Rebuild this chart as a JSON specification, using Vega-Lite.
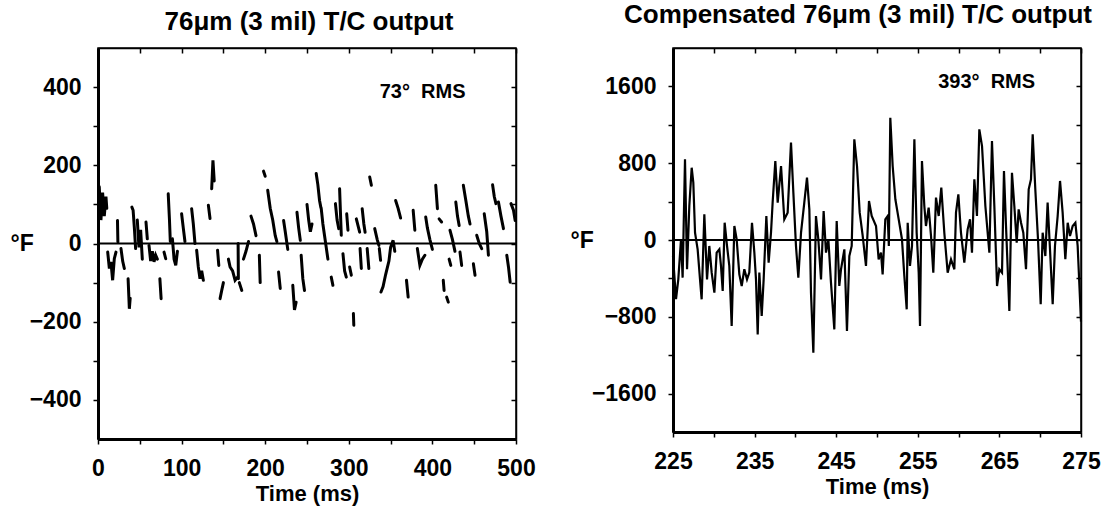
{
  "$schema": "https://vega.github.io/schema/vega-lite/v6.json",
  "background": "white",
  "padding": {"left": 9, "top": 1, "right": 5, "bottom": 5},
  "spacing": 33,
  "config": {
    "font": "Liberation Sans",
    "view": {"stroke": "black", "strokeWidth": 1.5},
    "axis": {
      "grid": false,
      "domainColor": "black",
      "tickColor": "black",
      "labelColor": "black",
      "titleColor": "black",
      "labelFont": "Liberation Sans",
      "titleFont": "Liberation Sans",
      "labelFontWeight": "bold",
      "titleFontWeight": "bold",
      "labelFontSize": 23,
      "titleFontSize": 22,
      "labelFlush": false,
      "tickWidth": 1.5
    },
    "title": {"font": "Liberation Sans", "fontSize": 26, "fontWeight": "bold", "color": "black"}
  },
  "datasets": {
    "left": [
      {"seg":1,"t":1.5,"v":145},{"seg":1,"t":3.5,"v":60},{"seg":1,"t":5.5,"v":130},{"seg":1,"t":7.5,"v":70},{"seg":1,"t":9.5,"v":120},{"seg":1,"t":10.5,"v":90},
      {"seg":2,"t":11.6,"v":-22},{"seg":2,"t":13.6,"v":-64},{"seg":2,"t":15.5,"v":-47},{"seg":2,"t":17.5,"v":-94},{"seg":2,"t":19.5,"v":-39},{"seg":2,"t":21.5,"v":-22},
      {"seg":3,"t":23.3,"v":59},{"seg":3,"t":23.8,"v":4},
      {"seg":4,"t":27.5,"v":-13},{"seg":4,"t":29.5,"v":-45},{"seg":4,"t":31.5,"v":-64},
      {"seg":5,"t":36,"v":-90},{"seg":5,"t":37.5,"v":-167},{"seg":5,"t":38.5,"v":-140},
      {"seg":6,"t":40.5,"v":93},{"seg":6,"t":42,"v":85},{"seg":6,"t":43.5,"v":40},{"seg":6,"t":45,"v":-13},
      {"seg":7,"t":47,"v":60},{"seg":7,"t":49,"v":-10},{"seg":7,"t":51,"v":35},{"seg":7,"t":53,"v":-40},
      {"seg":8,"t":57.4,"v":55},{"seg":8,"t":59,"v":12},
      {"seg":9,"t":61,"v":-5},{"seg":9,"t":63,"v":-45},{"seg":9,"t":65,"v":-20},{"seg":9,"t":67,"v":-47},{"seg":9,"t":69,"v":-30},{"seg":9,"t":71,"v":-40},
      {"seg":10,"t":74,"v":-90},{"seg":10,"t":75.5,"v":-141},
      {"seg":11,"t":79,"v":-22},{"seg":11,"t":81,"v":-39},
      {"seg":12,"t":84,"v":127},{"seg":12,"t":85.5,"v":60},{"seg":12,"t":86.5,"v":5},
      {"seg":13,"t":89,"v":12},{"seg":13,"t":91,"v":-40},{"seg":13,"t":93,"v":-56},{"seg":13,"t":95,"v":-20},
      {"seg":14,"t":100,"v":76},{"seg":14,"t":102,"v":40},{"seg":14,"t":104,"v":5},
      {"seg":15,"t":112,"v":89},{"seg":15,"t":114,"v":50},{"seg":15,"t":116,"v":0},
      {"seg":16,"t":118,"v":-17},{"seg":16,"t":120,"v":-60},{"seg":16,"t":122,"v":-90},{"seg":16,"t":124,"v":-70},{"seg":16,"t":126,"v":-94},
      {"seg":17,"t":132,"v":98},{"seg":17,"t":134,"v":64},
      {"seg":18,"t":136,"v":140},{"seg":18,"t":137.5,"v":213},{"seg":18,"t":139,"v":160},
      {"seg":19,"t":143,"v":-17},{"seg":19,"t":144.5,"v":-56},
      {"seg":20,"t":146,"v":-141},{"seg":20,"t":148,"v":-120},{"seg":20,"t":150,"v":-100},
      {"seg":21,"t":156,"v":-40},{"seg":21,"t":158,"v":-60},{"seg":21,"t":161,"v":-70},{"seg":21,"t":164,"v":-94},{"seg":21,"t":167,"v":-86},
      {"seg":22,"t":167.6,"v":0},{"seg":22,"t":167.9,"v":-90},
      {"seg":23,"t":169,"v":-100},{"seg":23,"t":172,"v":-120},
      {"seg":24,"t":174,"v":-40},{"seg":24,"t":177,"v":-20},{"seg":24,"t":180,"v":5},
      {"seg":25,"t":183,"v":70},{"seg":25,"t":186,"v":50},{"seg":25,"t":189,"v":20},
      {"seg":26,"t":193,"v":-30},{"seg":26,"t":194,"v":-100},
      {"seg":27,"t":198,"v":185},{"seg":27,"t":200,"v":172},
      {"seg":28,"t":203,"v":136},{"seg":28,"t":206,"v":90},{"seg":28,"t":209,"v":60},{"seg":28,"t":212,"v":20},{"seg":28,"t":214,"v":5},
      {"seg":29,"t":216,"v":-73},{"seg":29,"t":218,"v":-115},
      {"seg":30,"t":222,"v":59},{"seg":30,"t":224,"v":30},{"seg":30,"t":227,"v":-15},
      {"seg":31,"t":233,"v":-107},{"seg":31,"t":235,"v":-170},{"seg":31,"t":237,"v":-150},
      {"seg":32,"t":238,"v":80},{"seg":32,"t":240,"v":40},{"seg":32,"t":242,"v":8},
      {"seg":33,"t":243,"v":-30},{"seg":33,"t":245,"v":-90},{"seg":33,"t":247,"v":-120},
      {"seg":34,"t":250,"v":100},{"seg":34,"t":252,"v":60},{"seg":34,"t":254,"v":30},{"seg":34,"t":256,"v":50},
      {"seg":35,"t":261,"v":179},{"seg":35,"t":263,"v":150},{"seg":35,"t":265,"v":110},{"seg":35,"t":266.5,"v":93},
      {"seg":36,"t":267,"v":90},{"seg":36,"t":269,"v":50},{"seg":36,"t":271,"v":20},{"seg":36,"t":273,"v":-10},{"seg":36,"t":275,"v":-40},
      {"seg":37,"t":279,"v":-86},{"seg":37,"t":281,"v":-107},
      {"seg":38,"t":284,"v":102},{"seg":38,"t":286,"v":60},{"seg":38,"t":288,"v":38},
      {"seg":39,"t":289,"v":140},{"seg":39,"t":290,"v":80},{"seg":39,"t":291,"v":21},
      {"seg":40,"t":293,"v":-26},{"seg":40,"t":295,"v":-70},{"seg":40,"t":297,"v":-86},
      {"seg":41,"t":297.5,"v":76},{"seg":41,"t":299,"v":34},
      {"seg":42,"t":301,"v":-60},{"seg":42,"t":303,"v":-81},
      {"seg":43,"t":305.5,"v":-179},{"seg":43,"t":306,"v":-209},
      {"seg":44,"t":309,"v":63},{"seg":44,"t":313,"v":29},
      {"seg":45,"t":313.5,"v":-13},{"seg":45,"t":315,"v":-64},
      {"seg":46,"t":316,"v":89},{"seg":46,"t":318,"v":50},{"seg":46,"t":319.5,"v":29},
      {"seg":47,"t":322,"v":-13},{"seg":47,"t":324,"v":-64},
      {"seg":48,"t":325,"v":170},{"seg":48,"t":327,"v":149},
      {"seg":49,"t":331,"v":38},{"seg":49,"t":334,"v":10},{"seg":49,"t":336,"v":-5},
      {"seg":50,"t":336.5,"v":-13},{"seg":50,"t":338,"v":-43},
      {"seg":51,"t":338.5,"v":-124},{"seg":51,"t":341,"v":-110},{"seg":51,"t":344,"v":-80},{"seg":51,"t":348,"v":-45},{"seg":51,"t":350,"v":-10},{"seg":51,"t":353,"v":8},{"seg":51,"t":355,"v":-20},
      {"seg":52,"t":356,"v":110},{"seg":52,"t":359,"v":90},{"seg":52,"t":362,"v":65},
      {"seg":53,"t":369,"v":-94},{"seg":53,"t":371,"v":-137},
      {"seg":54,"t":377,"v":85},{"seg":54,"t":379,"v":34},
      {"seg":55,"t":382,"v":-13},{"seg":55,"t":385,"v":-56},{"seg":55,"t":388,"v":-40},{"seg":55,"t":391,"v":-30},
      {"seg":56,"t":392,"v":68},{"seg":56,"t":394,"v":40},{"seg":56,"t":397,"v":10},{"seg":56,"t":400,"v":-15},
      {"seg":57,"t":404,"v":149},{"seg":57,"t":406,"v":89},
      {"seg":58,"t":408,"v":63},{"seg":58,"t":411,"v":55},
      {"seg":59,"t":413,"v":-94},{"seg":59,"t":414,"v":-120},
      {"seg":60,"t":417,"v":-137},{"seg":60,"t":419,"v":-150},
      {"seg":61,"t":420,"v":-40},{"seg":61,"t":422,"v":-56},
      {"seg":62,"t":421,"v":34},{"seg":62,"t":424,"v":10},{"seg":62,"t":427,"v":-20},
      {"seg":63,"t":428,"v":106},{"seg":63,"t":430,"v":70},{"seg":63,"t":432,"v":46},
      {"seg":64,"t":433,"v":-22},{"seg":64,"t":435,"v":-56},
      {"seg":65,"t":437,"v":149},{"seg":65,"t":440,"v":110},{"seg":65,"t":443,"v":70},{"seg":65,"t":445,"v":50},
      {"seg":66,"t":449,"v":-52},{"seg":66,"t":451,"v":-81},
      {"seg":67,"t":453,"v":21},{"seg":67,"t":456,"v":0},{"seg":67,"t":459,"v":-13},
      {"seg":68,"t":462,"v":76},{"seg":68,"t":465,"v":30},{"seg":68,"t":467,"v":-30},
      {"seg":69,"t":472,"v":150},{"seg":69,"t":474,"v":120},{"seg":69,"t":476,"v":102},
      {"seg":70,"t":479,"v":106},{"seg":70,"t":482,"v":70},{"seg":70,"t":485,"v":38},
      {"seg":71,"t":489,"v":-30},{"seg":71,"t":491,"v":-60},{"seg":71,"t":493,"v":-99},
      {"seg":72,"t":494,"v":102},{"seg":72,"t":497,"v":85},{"seg":72,"t":499,"v":59}
    ],
    "right": [
      {"t":225.0,"v":-167},{"t":225.37,"v":-617},{"t":225.65,"v":-410},{"t":225.98,"v":6},{"t":226.18,"v":-392},{"t":226.47,"v":840},{"t":226.72,"v":-305},{"t":227.0,"v":354},{"t":227.29,"v":753},{"t":227.49,"v":597},
      {"t":227.7,"v":76},{"t":228.02,"v":-97},{"t":228.31,"v":-410},{"t":228.51,"v":-618},{"t":228.84,"v":267},{"t":229.17,"v":-410},{"t":229.45,"v":-62},{"t":229.74,"v":-340},{"t":230.07,"v":-548},{"t":230.35,"v":-132},
      {"t":230.68,"v":-97},{"t":230.88,"v":-270},{"t":231.09,"v":-531},{"t":231.33,"v":180},{"t":231.62,"v":-62},{"t":231.9,"v":-270},{"t":232.19,"v":-896},{"t":232.52,"v":146},{"t":232.8,"v":8},{"t":233.13,"v":-358},
      {"t":233.42,"v":-479},{"t":233.74,"v":-305},{"t":234.07,"v":-410},{"t":234.35,"v":-340},{"t":234.68,"v":180},{"t":234.97,"v":-132},{"t":235.17,"v":-410},{"t":235.38,"v":-983},{"t":235.58,"v":-340},{"t":235.87,"v":-792},
      {"t":236.11,"v":-410},{"t":236.44,"v":250},{"t":236.72,"v":-236},{"t":237.01,"v":76},{"t":237.21,"v":389},{"t":237.54,"v":823},{"t":237.83,"v":389},{"t":238.24,"v":771},{"t":238.64,"v":215},{"t":239.05,"v":285},
      {"t":239.46,"v":1014},{"t":239.75,"v":493},{"t":240.07,"v":-62},{"t":240.36,"v":-392},{"t":240.69,"v":76},{"t":241.09,"v":389},{"t":241.42,"v":649},{"t":241.71,"v":319},{"t":241.91,"v":-548},{"t":242.2,"v":-1174},
      {"t":242.52,"v":250},{"t":242.81,"v":8},{"t":243.14,"v":-410},{"t":243.46,"v":302},{"t":243.75,"v":-132},{"t":244.04,"v":8},{"t":244.36,"v":-444},{"t":244.77,"v":-931},{"t":245.06,"v":198},{"t":245.38,"v":-479},
      {"t":245.59,"v":-305},{"t":246.0,"v":-97},{"t":246.32,"v":-948},{"t":246.61,"v":-167},{"t":246.9,"v":-62},{"t":247.22,"v":1049},{"t":247.55,"v":771},{"t":247.88,"v":285},{"t":248.24,"v":48},{"t":248.65,"v":-270},
      {"t":249.02,"v":406},{"t":249.35,"v":250},{"t":249.88,"v":146},{"t":250.2,"v":-201},{"t":250.49,"v":-132},{"t":250.69,"v":-358},{"t":251.02,"v":215},{"t":251.31,"v":250},{"t":251.45,"v":-62},{"t":251.63,"v":1274},
      {"t":251.92,"v":771},{"t":252.25,"v":424},{"t":252.66,"v":215},{"t":253.06,"v":8},{"t":253.35,"v":-375},{"t":253.64,"v":-722},{"t":253.76,"v":180},{"t":254.04,"v":-270},{"t":254.29,"v":-62},{"t":254.58,"v":1049},
      {"t":254.86,"v":76},{"t":255.11,"v":-340},{"t":255.27,"v":-896},{"t":255.51,"v":823},{"t":255.8,"v":354},{"t":256.0,"v":146},{"t":256.33,"v":337},{"t":256.62,"v":42},{"t":256.9,"v":-340},{"t":257.23,"v":441},
      {"t":257.56,"v":250},{"t":257.88,"v":545},{"t":258.25,"v":76},{"t":258.66,"v":-340},{"t":259.07,"v":-201},{"t":259.48,"v":-305},{"t":259.68,"v":285},{"t":259.97,"v":476},{"t":260.29,"v":76},{"t":260.7,"v":-236},
      {"t":261.11,"v":111},{"t":261.4,"v":215},{"t":261.64,"v":-132},{"t":261.93,"v":632},{"t":262.25,"v":250},{"t":262.54,"v":1153},{"t":262.87,"v":979},{"t":263.28,"v":354},{"t":263.77,"v":-132},{"t":264.09,"v":1031},
      {"t":264.38,"v":354},{"t":264.71,"v":-479},{"t":264.99,"v":-305},{"t":265.32,"v":-340},{"t":265.56,"v":719},{"t":265.81,"v":146},{"t":266.22,"v":-739},{"t":266.54,"v":701},{"t":266.83,"v":354},{"t":267.12,"v":-28},
      {"t":267.36,"v":319},{"t":267.65,"v":180},{"t":267.93,"v":76},{"t":268.26,"v":-305},{"t":268.59,"v":528},{"t":268.87,"v":632},{"t":269.08,"v":1101},{"t":269.4,"v":528},{"t":269.73,"v":8},{"t":270.06,"v":-670},
      {"t":270.3,"v":76},{"t":270.63,"v":-167},{"t":270.91,"v":389},{"t":271.2,"v":-97},{"t":271.53,"v":-670},{"t":271.81,"v":-62},{"t":272.14,"v":250},{"t":272.43,"v":615},{"t":272.75,"v":285},{"t":273.08,"v":-201},
      {"t":273.37,"v":180},{"t":273.65,"v":42},{"t":273.98,"v":146},{"t":274.31,"v":180},{"t":274.59,"v":-62},{"t":274.88,"v":-618},{"t":275.0,"v":-850}
    ]
  },
  "hconcat": [
    {
      "width": 418,
      "height": 391,
      "title": {"text": "76μm (3 mil) T/C output", "offset": 12, "dx": 2},
      "layer": [
        {
          "data": {"name": "left"},
          "mark": {"type": "line", "color": "black", "strokeWidth": 3, "strokeCap": "round"},
          "encoding": {
            "x": {"field": "t", "type": "quantitative",
              "scale": {"domain": [0, 500], "nice": false, "zero": false},
              "axis": {"orient": "bottom", "values": [0,50,100,150,200,250,300,350,400,450,500],
                "labelExpr": "datum.value % 100 === 0 ? datum.label : ''",
                "domainWidth": 3, "tickSize": 5, "labelPadding": 13,
                "title": "Time (ms)", "titlePadding": 3}},
            "y": {"field": "v", "type": "quantitative",
              "scale": {"domain": [-500, 500], "nice": false, "zero": false},
              "axis": {"orient": "left", "values": [-400,-300,-200,-100,0,100,200,300,400],
                "labelExpr": "datum.value % 200 === 0 ? datum.label : ''",
                "domainWidth": 3, "tickSize": 5, "labelPadding": 12,
                "title": "°F", "titleAngle": 0, "titleAlign": "left", "titleBaseline": "middle",
                "titleX": -88, "titleY": 195.5, "titleFontSize": 23}},
            "detail": {"field": "seg", "type": "nominal"}
          }
        },
        {
          "data": {"values": [{}]},
          "mark": {"type": "rule", "color": "black", "strokeWidth": 2},
          "encoding": {"y": {"datum": 0, "axis": null}}
        },
        {
          "data": {"values": [{"t": 337, "v": 387, "label": "73° \u00a0RMS"}]},
          "mark": {"type": "text", "align": "left", "baseline": "middle", "fontSize": 20, "fontWeight": "bold", "color": "black"},
          "encoding": {
            "x": {"field": "t", "type": "quantitative",
              "axis": {"orient": "top", "values": [0,50,100,150,200,250,300,350,400,450,500], "labels": false, "title": null, "tickSize": -5, "domainWidth": 1.5}},
            "y": {"field": "v", "type": "quantitative",
              "axis": {"orient": "right", "values": [-400,-300,-200,-100,0,100,200,300,400], "labels": false, "title": null, "tickSize": -5, "domainWidth": 1.5}},
            "text": {"field": "label"}
          }
        }
      ],
      "resolve": {"axis": {"x": "independent", "y": "independent"}}
    },
    {
      "width": 408,
      "height": 384,
      "title": {"text": "Compensated 76μm (3 mil) T/C output", "offset": 19, "dx": -19},
      "layer": [
        {
          "data": {"name": "right"},
          "mark": {"type": "line", "color": "black", "strokeWidth": 2.2},
          "encoding": {
            "x": {"field": "t", "type": "quantitative",
              "scale": {"domain": [225, 275], "nice": false, "zero": false},
              "axis": {"orient": "bottom", "values": [225,230,235,240,245,250,255,260,265,270,275],
                "labelExpr": "(datum.value - 225) % 10 === 0 ? datum.label : ''",
                "domainWidth": 3, "tickSize": 5, "labelPadding": 13,
                "title": "Time (ms)", "titlePadding": 3}},
            "y": {"field": "v", "type": "quantitative",
              "scale": {"domain": [-2000, 2000], "nice": false, "zero": false},
              "axis": {"orient": "left", "values": [-1600,-1200,-800,-400,0,400,800,1200,1600],
                "labelExpr": "datum.value % 800 === 0 ? datum.label : ''",
                "format": "d",
                "domainWidth": 3, "tickSize": 5, "labelPadding": 12,
                "title": "°F", "titleAngle": 0, "titleAlign": "left", "titleBaseline": "middle",
                "titleX": -103, "titleY": 192, "titleFontSize": 23}}
          }
        },
        {
          "data": {"values": [{}]},
          "mark": {"type": "rule", "color": "black", "strokeWidth": 2},
          "encoding": {"y": {"datum": 0, "axis": null}}
        },
        {
          "data": {"values": [{"t": 257.5, "v": 1650, "label": "393° \u00a0RMS"}]},
          "mark": {"type": "text", "align": "left", "baseline": "middle", "fontSize": 20, "fontWeight": "bold", "color": "black"},
          "encoding": {
            "x": {"field": "t", "type": "quantitative",
              "axis": {"orient": "top", "values": [225,230,235,240,245,250,255,260,265,270,275], "labels": false, "title": null, "tickSize": -5, "domainWidth": 1.5}},
            "y": {"field": "v", "type": "quantitative",
              "axis": {"orient": "right", "values": [-1600,-1200,-800,-400,0,400,800,1200,1600], "labels": false, "title": null, "tickSize": -5, "domainWidth": 1.5}},
            "text": {"field": "label"}
          }
        }
      ],
      "resolve": {"axis": {"x": "independent", "y": "independent"}}
    }
  ]
}
